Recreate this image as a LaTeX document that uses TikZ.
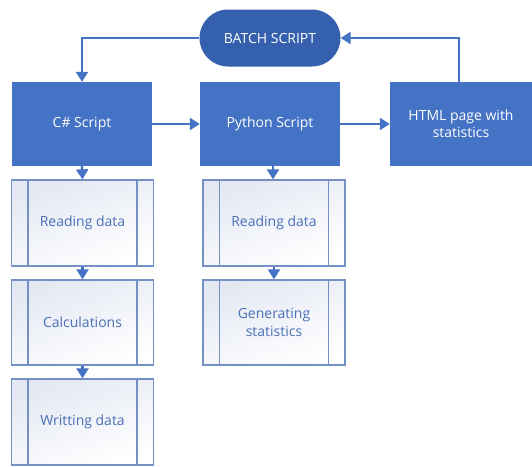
\documentclass[tikz,border=0pt]{standalone}
\usepackage{fontspec}
\setmainfont{Open Sans}
\usetikzlibrary{arrows.meta,shapes.misc}
\definecolor{mainblue}{HTML}{4472C4}
\definecolor{darkblue}{HTML}{3560AE}
\definecolor{subborder}{HTML}{7590C4}
\definecolor{subtext}{HTML}{4A70B8}
\definecolor{subfill}{HTML}{E3E8F2}
\tikzset{
  mainbox/.style={draw=none, fill=mainblue, text=white, minimum width=140pt, minimum height=84pt, align=center, font=\fontsize{14}{17}\selectfont, inner sep=0pt},
  batchbox/.style={rounded rectangle, fill=darkblue, text=white, minimum width=141pt, minimum height=57pt, font=\fontsize{14}{17}\selectfont, inner sep=0pt},
  subbox/.style={draw=subborder, line width=1.3pt, top color=subfill, bottom color=white, shading angle=20, text=subtext, minimum width=142pt, minimum height=85pt, align=center, font=\fontsize{14}{17.5}\selectfont, inner sep=0pt,
    path picture={
      \draw[subborder, line width=1.3pt] ([xshift=16.5pt]path picture bounding box.north west) -- ([xshift=16.5pt]path picture bounding box.south west);
      \draw[subborder, line width=1.3pt] ([xshift=-16.5pt]path picture bounding box.north east) -- ([xshift=-16.5pt]path picture bounding box.south east);
    }},
  arr/.style={draw=mainblue, line width=2.4pt, -{Triangle[width=12pt,length=10pt]}}
}
\begin{document}
\begin{tikzpicture}[x=1pt,y=-1pt]
\useasboundingbox (0,0) rectangle (532,466);
\node[batchbox] (batch) at (270,38) {BATCH SCRIPT};
\node[mainbox] (cs) at (82,124) {C\# Script};
\node[mainbox] (py) at (270,124) {Python Script};
\node[mainbox, minimum width=142pt] (html) at (461,124) {HTML page with\\statistics};
\node[subbox, minimum height=86pt] (rd1) at (82.5,223) {Reading data};
\node[subbox] (calc) at (82.5,322.5) {Calculations};
\node[subbox, minimum height=86pt] (wr) at (82.5,422) {Writting data};
\node[subbox, minimum height=86pt] (rd2) at (274,223) {Reading data};
\node[subbox] (gen) at (274,322.5) {Generating\\statistics};
\draw[arr] (batch.west) -| (cs.north);
\draw[arr] ([xshift=-2pt]html.north) |- (batch.east);
\draw[arr] (cs.east) -- (py.west);
\draw[arr] (py.east) -- (html.west);
\draw[arr] (cs.south) -- (rd1.north);
\draw[arr] (rd1.south) -- (calc.north);
\draw[arr] (calc.south) -- (wr.north);
\draw[arr] ([xshift=3pt]py.south) -- ([xshift=-1pt]rd2.north);
\draw[arr] (rd2.south) -- (gen.north);
\end{tikzpicture}
\end{document}
